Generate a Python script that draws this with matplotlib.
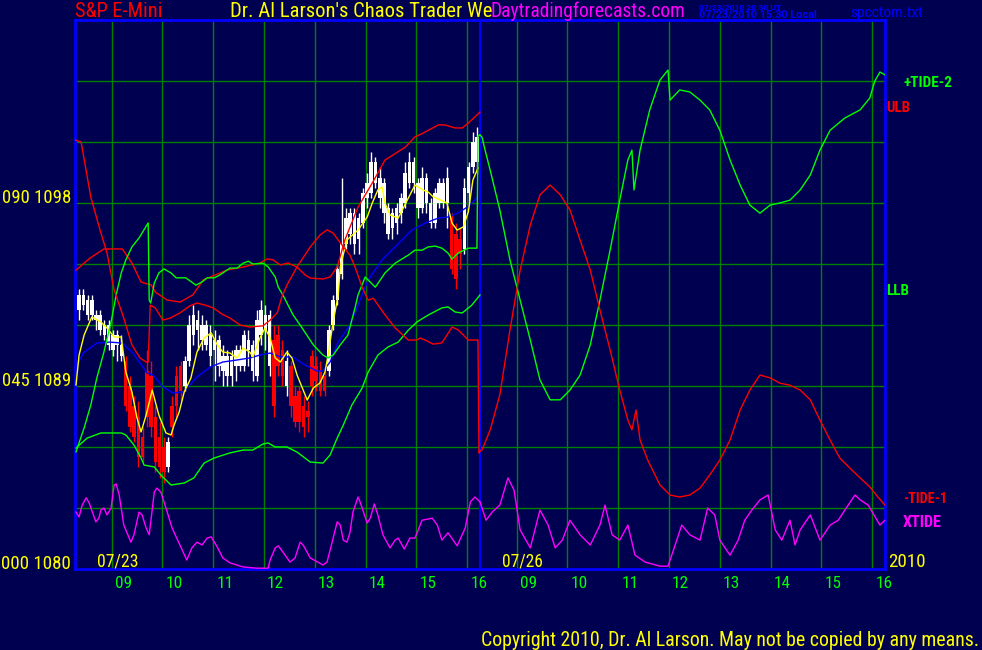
import numpy as np
import matplotlib.pyplot as plt

# ---------------- data ----------------
SESSION = 7.97          # hours of one trading day shown on the chart
day_labels = ['07/23', '07/26']
hour_ticks = [9, 10, 11, 12, 13, 14, 15, 16]
price_grid = [1083, 1086, 1089, 1092, 1095, 1098, 1101, 1104]
left_labels = [(0, 1080), (45, 1089), (90, 1098)]     # (tide, price)

# 5 minute bars for 07/23 (open, high, low, close)
first_bar = 8.36
bars = [
    (1092.75, 1093.75, 1092.25, 1093.5), (1093.0, 1093.75, 1092.75, 1093.5),
    (1092.5, 1093.5, 1092.25, 1093.25), (1092.5, 1093.5, 1092.25, 1093.25),
    (1092.25, 1092.75, 1091.75, 1092.5), (1091.75, 1092.75, 1091.5, 1092.5),
    (1091.5, 1092.25, 1091.25, 1092.0), (1091.0, 1092.25, 1090.75, 1092.0),
    (1090.75, 1091.75, 1090.5, 1091.5), (1091.0, 1091.75, 1090.25, 1091.5),
    (1090.5, 1091.5, 1090.25, 1091.0), (1090.25, 1090.5, 1087.75, 1088.0),
    (1089.0, 1089.5, 1086.75, 1087.0), (1088.0, 1088.5, 1086.25, 1086.5),
    (1087.5, 1088.25, 1085.0, 1085.5), (1086.5, 1087.0, 1085.25, 1085.5),
    (1089.75, 1090.75, 1087.0, 1087.5), (1089.5, 1090.25, 1086.5, 1087.0),
    (1087.5, 1088.0, 1084.75, 1085.25), (1086.5, 1087.25, 1084.5, 1085.0),
    (1086.0, 1086.5, 1084.25, 1084.75), (1085.0, 1086.5, 1084.75, 1086.25),
    (1088.0, 1088.5, 1086.5, 1087.0), (1089.5, 1090.0, 1087.5, 1088.0),
    (1090.0, 1090.25, 1088.25, 1088.75), (1089.0, 1090.5, 1088.75, 1090.25),
    (1090.25, 1092.5, 1090.0, 1092.0), (1091.5, 1093.0, 1091.0, 1092.5),
    (1091.75, 1092.75, 1090.75, 1092.25), (1091.25, 1092.5, 1090.75, 1092.0),
    (1091.0, 1092.25, 1090.75, 1092.0), (1090.5, 1092.0, 1090.0, 1091.5),
    (1090.75, 1091.75, 1089.25, 1091.25), (1090.0, 1091.5, 1089.5, 1091.25),
    (1089.75, 1091.0, 1089.0, 1090.5), (1089.5, 1090.75, 1089.0, 1090.5),
    (1089.5, 1090.75, 1089.0, 1090.5), (1090.0, 1091.0, 1089.25, 1090.75),
    (1090.0, 1091.0, 1089.75, 1090.75), (1090.0, 1091.75, 1089.75, 1091.5),
    (1090.75, 1091.75, 1090.0, 1091.25), (1089.75, 1091.25, 1089.25, 1091.0),
    (1089.5, 1092.75, 1089.25, 1092.25), (1091.5, 1093.25, 1091.0, 1092.75),
    (1091.75, 1093.0, 1090.75, 1092.5), (1090.0, 1092.75, 1089.5, 1092.5),
    (1091.25, 1092.0, 1087.5, 1088.0), (1091.5, 1092.0, 1089.5, 1090.0),
    (1090.75, 1091.25, 1089.0, 1089.5), (1089.0, 1090.75, 1088.5, 1090.25),
    (1090.0, 1090.25, 1087.5, 1088.0), (1088.5, 1089.0, 1087.0, 1087.25),
    (1088.75, 1089.0, 1086.75, 1087.25), (1088.0, 1088.5, 1086.5, 1087.0),
    (1087.75, 1088.25, 1086.75, 1087.5), (1090.5, 1090.75, 1088.5, 1089.0),
    (1090.0, 1090.5, 1088.75, 1089.25), (1089.75, 1090.25, 1088.5, 1088.75),
    (1089.5, 1089.75, 1088.5, 1088.75), (1089.75, 1092.0, 1089.5, 1091.75),
    (1092.0, 1093.5, 1091.75, 1093.25), (1093.25, 1095.0, 1093.0, 1094.75),
    (1094.5, 1099.25, 1094.25, 1096.0), (1096.0, 1097.75, 1095.75, 1097.25),
    (1096.5, 1097.75, 1096.0, 1097.5), (1096.0, 1097.75, 1095.5, 1097.5),
    (1096.25, 1097.5, 1095.5, 1097.25), (1097.0, 1098.75, 1096.75, 1098.5),
    (1098.25, 1099.5, 1097.75, 1099.0), (1098.5, 1100.5, 1098.25, 1100.0),
    (1099.0, 1100.25, 1098.75, 1100.0), (1098.25, 1099.75, 1097.75, 1099.25),
    (1097.5, 1099.25, 1097.0, 1099.0), (1096.5, 1098.0, 1096.25, 1097.75),
    (1096.75, 1097.75, 1096.25, 1097.5), (1097.0, 1098.0, 1096.5, 1097.75),
    (1097.5, 1098.5, 1097.0, 1098.25), (1098.0, 1100.0, 1097.75, 1099.5),
    (1099.0, 1100.5, 1098.75, 1100.0), (1099.0, 1100.25, 1098.5, 1100.0),
    (1097.75, 1099.25, 1097.25, 1099.0), (1097.75, 1099.75, 1097.5, 1099.25),
    (1098.0, 1099.5, 1097.5, 1099.25), (1097.0, 1098.25, 1096.75, 1098.0),
    (1097.0, 1098.75, 1096.75, 1098.5), (1098.0, 1099.25, 1097.75, 1099.0),
    (1098.0, 1099.25, 1097.75, 1099.0), (1098.0, 1099.75, 1096.75, 1099.25),
    (1097.25, 1097.5, 1094.5, 1094.75), (1096.5, 1097.0, 1093.75, 1094.25),
    (1096.25, 1096.75, 1094.75, 1095.5), (1095.75, 1099.25, 1095.5, 1098.75),
    (1098.5, 1100.0, 1098.0, 1099.75), (1099.75, 1101.5, 1099.5, 1101.0),
    (1100.0, 1101.75, 1099.5, 1101.25),
]

# moving averages of price, 07/23 (hour, price)
fast_ma = [(8.30, 1089.05), (8.36, 1090.52), (8.46, 1091.51), (8.61, 1092.39), (8.79, 1092.15),
           (8.91, 1091.85), (9.05, 1091.41), (9.19, 1091.41), (9.28, 1089.69), (9.40, 1088.71),
           (9.50, 1087.43), (9.58, 1086.74), (9.68, 1087.57), (9.80, 1088.80), (9.93, 1087.57),
           (10.07, 1086.69), (10.17, 1086.59), (10.23, 1087.08), (10.33, 1087.72), (10.43, 1088.71),
           (10.56, 1089.39), (10.68, 1090.67), (10.82, 1091.36), (10.96, 1091.61), (11.08, 1091.02),
           (11.19, 1090.67), (11.33, 1090.62), (11.47, 1090.38), (11.59, 1090.87), (11.72, 1090.67),
           (11.78, 1090.43), (11.92, 1091.36), (12.02, 1091.85), (12.12, 1091.36), (12.22, 1090.38),
           (12.32, 1090.18), (12.45, 1090.67), (12.55, 1090.38), (12.65, 1089.54), (12.85, 1088.31),
           (12.97, 1088.90), (13.10, 1089.15), (13.20, 1089.69), (13.26, 1090.52), (13.36, 1092.15),
           (13.46, 1093.48), (13.50, 1094.85), (13.63, 1096.18), (13.85, 1096.67), (14.03, 1097.31),
           (14.13, 1098.00), (14.24, 1098.64), (14.32, 1098.79), (14.38, 1098.00), (14.48, 1097.41),
           (14.64, 1097.26), (14.82, 1098.15), (14.97, 1098.88), (15.13, 1098.64), (15.23, 1098.54),
           (15.33, 1098.30), (15.47, 1098.15), (15.60, 1098.00), (15.70, 1097.01), (15.80, 1096.67),
           (15.92, 1096.82), (16.02, 1097.56), (16.11, 1099.13), (16.21, 1099.72)]
slow_ma = [(8.30, 1089.89), (8.44, 1090.62), (8.71, 1091.11), (8.97, 1091.16), (9.21, 1091.11),
           (9.42, 1090.62), (9.70, 1089.64), (9.82, 1089.54), (10.01, 1088.95), (10.21, 1088.66),
           (10.41, 1088.71), (10.68, 1089.44), (10.94, 1089.93), (11.19, 1090.18), (11.47, 1090.28),
           (11.72, 1090.38), (11.92, 1090.52), (12.12, 1090.62), (12.32, 1090.43), (12.57, 1090.43),
           (12.77, 1090.08), (13.04, 1089.74), (13.16, 1089.74), (13.30, 1090.18), (13.46, 1091.16),
           (13.69, 1092.00), (13.85, 1092.98), (14.05, 1094.21), (14.32, 1095.20), (14.58, 1095.84),
           (14.91, 1096.67), (15.17, 1097.01), (15.43, 1097.26), (15.62, 1097.31), (15.82, 1097.51),
           (16.00, 1097.80), (16.19, 1098.25)]

# upper / lower limit bands, 07/23 (hour, price)
ulb = [(8.30, 1094.70), (8.58, 1095.30), (8.85, 1095.74), (9.21, 1095.74), (9.40, 1095.05),
       (9.58, 1094.11), (9.78, 1093.97), (9.86, 1093.62), (10.09, 1093.23), (10.35, 1093.13),
       (10.60, 1093.48), (10.80, 1094.21), (10.94, 1094.36), (11.27, 1094.70), (11.59, 1094.85),
       (11.92, 1095.05), (12.06, 1095.25), (12.18, 1095.20), (12.32, 1094.95), (12.47, 1095.05),
       (12.65, 1094.85), (12.81, 1094.46), (12.91, 1094.31), (13.16, 1094.26), (13.30, 1094.36),
       (13.44, 1094.85), (13.59, 1096.18), (13.85, 1097.80), (14.13, 1098.98), (14.38, 1100.11),
       (14.78, 1100.75), (14.97, 1101.25), (15.17, 1101.49), (15.43, 1101.84), (15.56, 1101.84),
       (15.76, 1101.69), (15.90, 1101.69), (16.02, 1101.93), (16.25, 1102.47)]
llb = [(8.30, 1085.95), (8.52, 1086.44), (8.79, 1086.69), (9.19, 1086.69), (9.28, 1086.59),
       (9.44, 1086.10), (9.58, 1085.46), (9.64, 1085.11), (9.84, 1085.02), (9.97, 1084.62),
       (10.17, 1084.13), (10.43, 1084.23), (10.62, 1084.48), (10.82, 1085.21), (11.02, 1085.46),
       (11.33, 1085.71), (11.59, 1085.85), (11.78, 1085.85), (11.98, 1086.15), (12.08, 1086.20),
       (12.22, 1086.00), (12.45, 1086.00), (12.65, 1085.75), (12.91, 1085.26), (13.16, 1085.21),
       (13.30, 1085.61), (13.44, 1086.44), (13.56, 1087.08), (13.73, 1088.07), (13.93, 1088.90),
       (14.05, 1089.69), (14.24, 1090.52), (14.44, 1090.92), (14.64, 1091.16), (14.84, 1091.75),
       (15.01, 1092.15), (15.23, 1092.49), (15.50, 1092.84), (15.62, 1092.89), (15.76, 1092.64),
       (15.90, 1092.59), (16.09, 1092.98), (16.25, 1093.48)]

# tide curves on the 0-135 tide scale (hour, value), one list per day
tide_plus2_d1 = [(8.30, 28.8), (8.46, 34.7), (8.59, 40.3), (8.71, 47.0), (8.85, 53.4), (8.99, 60.7),
                 (9.09, 67.4), (9.19, 72.8), (9.28, 76.0), (9.40, 79.2), (9.54, 81.4), (9.72, 85.1),
                 (9.74, 66.1), (9.77, 65.4), (9.84, 70.3), (9.93, 72.8), (10.03, 73.8), (10.17, 72.8),
                 (10.27, 71.6), (10.46, 71.6), (10.66, 69.8), (10.78, 70.6), (10.88, 71.6), (11.02, 71.6),
                 (11.13, 72.3), (11.33, 74.0), (11.47, 74.0), (11.59, 75.2), (11.69, 75.7), (11.78, 75.0),
                 (11.98, 75.2), (12.08, 74.3), (12.22, 71.8), (12.28, 69.3), (12.37, 67.4), (12.57, 62.5),
                 (12.71, 60.0), (12.97, 55.1), (13.16, 52.6), (13.26, 51.9), (13.36, 52.6), (13.50, 55.1),
                 (13.65, 57.5), (13.79, 64.2), (13.85, 67.4), (13.99, 71.8), (14.19, 69.3), (14.38, 72.8),
                 (14.58, 75.2), (14.84, 77.2), (14.97, 78.4), (15.11, 78.4), (15.23, 79.2), (15.37, 79.4),
                 (15.50, 78.9), (15.62, 77.7), (15.70, 76.2), (15.82, 77.7), (16.02, 78.9), (16.19, 78.9),
                 (16.21, 106.5), (16.25, 106.7)]
tide_plus2_d2 = [(8.28, 106.7), (8.32, 106.2), (8.38, 103.0), (8.48, 98.1), (8.67, 88.3), (8.87, 76.0),
                 (9.07, 66.1), (9.27, 56.3), (9.46, 46.5), (9.66, 41.6), (9.86, 41.6), (10.05, 44.0),
                 (10.25, 47.7), (10.45, 55.1), (10.64, 66.1), (10.84, 78.4), (11.03, 90.7), (11.19, 100.6),
                 (11.27, 103.0), (11.31, 93.2), (11.43, 103.0), (11.62, 112.9), (11.82, 120.2),
                 (11.98, 122.7), (12.02, 115.3), (12.21, 117.8), (12.41, 117.3), (12.61, 115.3),
                 (12.80, 112.9), (13.00, 107.9), (13.20, 100.6), (13.40, 94.4), (13.59, 89.5), (13.79, 87.5),
                 (13.99, 89.5), (14.18, 90.0), (14.38, 90.7), (14.58, 93.2), (14.78, 96.9), (14.97, 103.0),
                 (15.17, 107.9), (15.46, 110.9), (15.76, 112.9), (15.95, 115.8), (16.05, 120.0),
                 (16.15, 122.2), (16.25, 121.5)]
tide_minus1_d1 = [(8.28, 105.5), (8.40, 105.0), (8.59, 91.5), (8.79, 82.6), (8.91, 77.7), (9.05, 68.6),
                  (9.24, 61.7), (9.40, 55.1), (9.56, 51.9), (9.68, 50.9), (9.72, 50.9), (9.76, 64.9),
                  (9.86, 64.2), (10.01, 61.2), (10.15, 61.7), (10.35, 63.0), (10.54, 64.7), (10.68, 65.4),
                  (10.84, 64.9), (11.00, 64.2), (11.17, 62.7), (11.33, 61.7), (11.53, 60.0), (11.72, 59.5),
                  (11.98, 59.8), (12.12, 61.2), (12.26, 63.0), (12.35, 66.9), (12.45, 69.8), (12.65, 74.3),
                  (12.91, 79.2), (13.10, 82.1), (13.24, 83.4), (13.36, 82.6), (13.50, 80.2), (13.69, 77.2),
                  (13.79, 74.3), (13.93, 69.3), (14.05, 66.1), (14.15, 66.6), (14.38, 62.5), (14.58, 59.3),
                  (14.84, 56.3), (15.01, 56.3), (15.07, 56.8), (15.17, 56.3), (15.33, 55.3), (15.50, 55.6),
                  (15.70, 59.5), (15.82, 58.8), (16.02, 56.3), (16.21, 56.3), (16.23, 28.5), (16.25, 29.0)]
tide_minus1_d2 = [(8.28, 29.0), (8.32, 29.3), (8.48, 34.2), (8.67, 42.8), (8.87, 58.8), (9.07, 73.5),
                  (9.27, 84.6), (9.46, 92.0), (9.66, 94.4), (9.86, 92.0), (10.05, 88.3), (10.25, 80.9),
                  (10.45, 73.5), (10.64, 63.7), (10.84, 53.9), (11.03, 44.0), (11.19, 36.6), (11.27, 34.2),
                  (11.35, 39.1), (11.43, 31.7), (11.58, 26.8), (11.82, 20.7), (12.02, 18.2), (12.21, 17.7),
                  (12.41, 18.2), (12.61, 19.9), (12.80, 23.1), (13.00, 26.8), (13.20, 31.7), (13.40, 39.1),
                  (13.59, 44.0), (13.79, 47.7), (13.99, 47.0), (14.18, 45.7), (14.38, 45.2), (14.58, 44.0),
                  (14.78, 41.6), (14.97, 36.6), (15.17, 31.7), (15.36, 27.3), (15.56, 24.8), (15.76, 22.4),
                  (15.95, 20.2), (16.11, 17.7), (16.25, 15.7)]
xtide_d1 = [(8.30, 14.0), (8.36, 12.8), (8.42, 15.7), (8.50, 17.5), (8.56, 16.2), (8.69, 11.6),
            (8.75, 12.5), (8.79, 14.5), (8.85, 15.0), (8.91, 13.3), (8.99, 15.0), (9.05, 20.7),
            (9.09, 20.9), (9.15, 18.2), (9.24, 10.8), (9.38, 6.6), (9.44, 8.4), (9.54, 14.0),
            (9.60, 13.3), (9.68, 10.1), (9.74, 8.4), (9.84, 18.9), (9.89, 19.9), (9.97, 18.9),
            (10.07, 15.0), (10.19, 10.1), (10.37, 5.2), (10.48, 2.2), (10.58, 5.2), (10.68, 6.6),
            (10.78, 5.9), (10.88, 7.6), (10.96, 7.9), (11.08, 5.4), (11.19, 2.7), (11.33, 1.5),
            (11.59, 0.5), (11.86, 0.2), (12.08, 0.2), (12.12, 2.2), (12.22, 5.2), (12.28, 5.7),
            (12.37, 4.2), (12.51, 1.7), (12.61, 2.7), (12.71, 6.6), (12.77, 5.9), (12.91, 2.7),
            (13.16, 1.0), (13.24, 1.7), (13.34, 6.6), (13.44, 11.6), (13.50, 10.8), (13.56, 7.1),
            (13.63, 6.6), (13.69, 8.9), (13.75, 14.0), (13.85, 17.7), (13.89, 16.5), (14.03, 11.3),
            (14.09, 12.5), (14.17, 16.0), (14.24, 13.3), (14.34, 8.4), (14.48, 5.2), (14.58, 7.1),
            (14.64, 7.6), (14.76, 4.9), (14.87, 7.6), (14.97, 7.6), (15.11, 12.0), (15.31, 12.5),
            (15.41, 10.8), (15.50, 7.1), (15.62, 8.9), (15.80, 5.7), (15.96, 10.1), (16.06, 16.5),
            (16.15, 17.7), (16.25, 16.5)]
xtide_d2 = [(8.28, 16.5), (8.40, 12.0), (8.52, 14.0), (8.67, 15.7), (8.83, 22.4), (8.95, 19.4),
            (9.07, 9.6), (9.27, 5.2), (9.46, 14.5), (9.62, 10.8), (9.76, 5.2), (9.90, 7.1),
            (10.05, 12.0), (10.25, 8.4), (10.45, 5.9), (10.64, 10.8), (10.74, 15.7), (10.88, 8.4),
            (11.03, 7.1), (11.19, 10.8), (11.33, 3.4), (11.53, 1.7), (11.82, 0.7), (11.98, 0.7),
            (12.12, 5.9), (12.25, 10.8), (12.41, 8.4), (12.61, 7.1), (12.76, 15.0), (12.90, 13.3),
            (13.00, 7.1), (13.20, 3.4), (13.36, 7.1), (13.49, 12.0), (13.63, 14.5), (13.79, 17.0),
            (13.95, 18.2), (14.09, 9.6), (14.22, 7.1), (14.38, 12.0), (14.48, 5.9), (14.58, 9.6),
            (14.78, 13.3), (14.97, 7.1), (15.17, 10.8), (15.33, 12.0), (15.46, 14.5), (15.66, 18.2),
            (15.76, 17.0), (15.92, 15.7), (16.15, 10.8), (16.25, 12.0)]

# ---------------- drawing ----------------
BG = '#000050'
GRID = '#008000'
FONT = ['Roboto Condensed', 'Liberation Sans Narrow', 'Roboto', 'DejaVu Sans']
SMALL_FONT = ['Roboto', 'DejaVu Sans']

fig = plt.figure(figsize=(9.82, 6.5), dpi=100, facecolor=BG)
ax = fig.add_axes([75 / 982, 81 / 650, 810 / 982, 549 / 650])
ax.set_facecolor(BG)
x0 = 8.28
ax.set_xlim(x0, x0 + 2 * SESSION)
ax.set_ylim(1080, 1107)
ax.set_xticks([])
ax.set_yticks([])
for s in ax.spines.values():
    s.set_color('#0000ff')
    s.set_linewidth(2)

# tide axis sits on top of the price axis
axt = ax.twinx()
axt.set_ylim(0, 135)
axt.axis('off')

# grid
for p in price_grid:
    ax.axhline(p, color=GRID, lw=1, zorder=1)
for d in range(2):
    for h in hour_ticks:
        ax.axvline(h + d * SESSION, color=GRID, lw=1, zorder=1)
ax.axvline(x0 + SESSION, color='#0000ff', lw=1.5, zorder=1)


def xy(points, day=0):
    arr = np.array(points)
    return arr[:, 0] + day * SESSION, arr[:, 1]


# candles
ohlc = np.array(bars)
t = first_bar + np.arange(len(ohlc)) * 5 / 60
up = ohlc[:, 3] >= ohlc[:, 0]
cols = np.where(up, '#ffffff', '#ff0000')
ax.vlines(t, ohlc[:, 2], ohlc[:, 1], colors=cols, lw=1, zorder=2)
body_lo = np.minimum(ohlc[:, 0], ohlc[:, 3])
body_h = np.maximum(np.abs(ohlc[:, 3] - ohlc[:, 0]), 0.06)
ax.bar(t, body_h, bottom=body_lo, width=0.07, color=cols, zorder=2)

# bands and averages
ax.plot(*xy(ulb), color='#ff0000', lw=1, zorder=3)
ax.plot(*xy(llb), color='#00ff00', lw=1, zorder=3)
ax.plot(*xy(slow_ma), color='#0000ff', lw=1, zorder=3)
ax.plot(*xy(fast_ma), color='#ffff00', lw=1, zorder=4)

# tides
for d, curve in enumerate([tide_plus2_d1, tide_plus2_d2]):
    axt.plot(*xy(curve, d), color='#00ff00', lw=1)
for d, curve in enumerate([tide_minus1_d1, tide_minus1_d2]):
    axt.plot(*xy(curve, d), color='#ff0000', lw=1)
for d, curve in enumerate([xtide_d1, xtide_d2]):
    axt.plot(*xy(curve, d), color='#ff00ff', lw=1)

# ---------------- texts (placed in pixels, squeezed to the widths of the original) ----------------
renderer = fig.canvas.get_renderer()


def ptext(x, y, s, c, width, ha='left', weight='normal', family=FONT):
    txt = fig.text(x / 982, 1 - y / 650, s, color=c, fontsize=12, family=family,
                   fontweight=weight, ha=ha, va='baseline')
    w = txt.get_window_extent(renderer=renderer).width
    txt.set_fontsize(12 * width / w)
    return txt


ptext(75, 17, 'S&P E-Mini', '#ff0000', 87)
ptext(230, 17, "Dr. Al Larson's Chaos Trader We", '#ffff00', 261)
ptext(491, 17, 'Daytradingforecasts.com', '#ff00ff', 194)
ptext(699, 9, '07/23/2010 20:30 UT', '#0000ff', 82, weight='bold', family=SMALL_FONT)
ptext(699, 18, '07/23/2010 15:30 Local', '#0000ff', 118, weight='bold', family=SMALL_FONT)
ptext(850, 17, 'spcctom.txt', '#0000ff', 72)
ptext(481, 646, 'Copyright 2010, Dr. Al Larson. May not be copied by any means.', '#ffff00', 498)

# left scale labels sit on their grid line
for tide, price in left_labels:
    ypx = 569 - (price - 1080) * 549 / 27
    ptext(71, ypx, f'{tide:03d} {price}', '#ffff00', 69, ha='right')

# hour labels and dates
px_per_hour = 810 / (2 * SESSION)
for d in range(2):
    for h in hour_ticks:
        xpx = 75 + (h + d * SESSION - x0) * px_per_hour
        ptext(xpx + 3, 588, f'{h:02d}', '#00ff00', 17)
    ptext(97 + d * 405, 566, day_labels[d], '#ffff00', 41)
ptext(888, 567, '2010', '#ffff00', 37)

# curve names on the right
ptext(903, 87, '+TIDE-2', '#00ff00', 49, weight='bold')
ptext(886, 112, 'ULB', '#ff0000', 24, weight='bold')
ptext(886, 295, 'LLB', '#00ff00', 23, weight='bold')
ptext(903, 503, '-TIDE-1', '#ff0000', 44, weight='bold')
ptext(903, 527, 'XTIDE', '#ff00ff', 39, weight='bold')

fig.savefig('out.png', dpi=100, facecolor=BG)
